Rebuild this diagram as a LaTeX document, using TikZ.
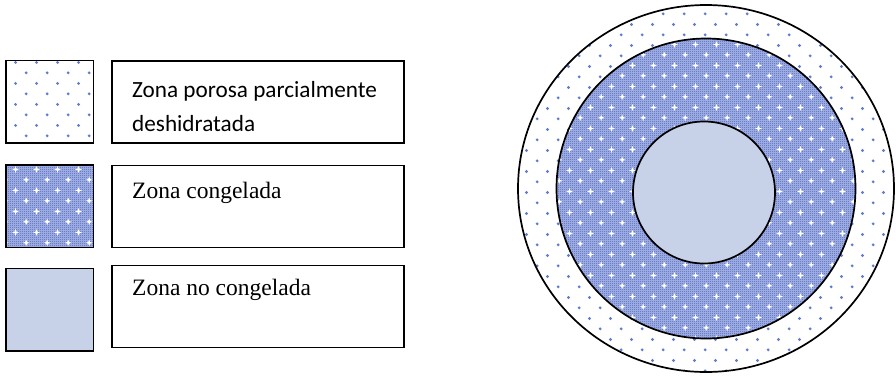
\documentclass[tikz,border=0pt]{standalone}
\usepackage{fontspec}
\setmainfont{Liberation Serif}
\newfontfamily\calib{Carlito}
\usetikzlibrary{patterns}
\definecolor{zblue}{RGB}{95,125,205}
\definecolor{zdark}{RGB}{70,95,190}
\definecolor{zbase}{RGB}{168,182,230}
\definecolor{zlight}{RGB}{199,209,232}
\pgfdeclarepatternformonly{zdots}{\pgfpoint{0pt}{0pt}}{\pgfpoint{21.33pt}{21.33pt}}{\pgfpoint{21.33pt}{21.33pt}}{%
  \pgfpathcircle{\pgfpoint{5.33pt}{5.33pt}}{1.6pt}%
  \pgfpathcircle{\pgfpoint{16pt}{16pt}}{1.6pt}%
  \pgfusepath{fill}}
\pgfdeclarepatternformonly{zchecker}{\pgfpoint{0pt}{0pt}}{\pgfpoint{2pt}{2pt}}{\pgfpoint{2pt}{2pt}}{%
  \pgfpathrectangle{\pgfpoint{0pt}{0pt}}{\pgfpoint{1pt}{1pt}}%
  \pgfpathrectangle{\pgfpoint{1pt}{1pt}}{\pgfpoint{1pt}{1pt}}%
  \pgfusepath{fill}}
\pgfdeclarepatternformonly{zstars}{\pgfpoint{0pt}{0pt}}{\pgfpoint{21.33pt}{21.33pt}}{\pgfpoint{21.33pt}{21.33pt}}{%
  \pgfpathmoveto{\pgfpoint{5.33pt}{8.8pt}}%
  \pgfpathlineto{\pgfpoint{6.2pt}{6.2pt}}%
  \pgfpathlineto{\pgfpoint{8.8pt}{5.33pt}}%
  \pgfpathlineto{\pgfpoint{6.2pt}{4.46pt}}%
  \pgfpathlineto{\pgfpoint{5.33pt}{1.86pt}}%
  \pgfpathlineto{\pgfpoint{4.46pt}{4.46pt}}%
  \pgfpathlineto{\pgfpoint{1.86pt}{5.33pt}}%
  \pgfpathlineto{\pgfpoint{4.46pt}{6.2pt}}%
  \pgfpathclose
  \pgfpathmoveto{\pgfpoint{16pt}{19.47pt}}%
  \pgfpathlineto{\pgfpoint{16.87pt}{16.87pt}}%
  \pgfpathlineto{\pgfpoint{19.47pt}{16pt}}%
  \pgfpathlineto{\pgfpoint{16.87pt}{15.13pt}}%
  \pgfpathlineto{\pgfpoint{16pt}{12.53pt}}%
  \pgfpathlineto{\pgfpoint{15.13pt}{15.13pt}}%
  \pgfpathlineto{\pgfpoint{12.53pt}{16pt}}%
  \pgfpathlineto{\pgfpoint{15.13pt}{16.87pt}}%
  \pgfpathclose
  \pgfusepath{fill}}
\tikzset{
  porous/.style={preaction={fill=white}, preaction={pattern=zdots, pattern color=zblue}},
  frozen/.style={preaction={fill=zbase}, preaction={pattern=zchecker, pattern color=zdark}, preaction={pattern=zstars, pattern color=white}},
  unfrozen/.style={fill=zlight},
  swatch/.style={draw=black, line width=1.6pt, minimum width=87.5pt, minimum height=82.5pt, anchor=north west, inner sep=0pt},
  labelbox/.style={draw=black, line width=1.5pt, minimum width=292pt, minimum height=82pt, anchor=north west, inner sep=0pt},
  serif/.style={font=\fontsize{23.5}{28}\selectfont, anchor=base west, inner sep=0pt},
  sans/.style={font=\calib\fontsize{23.2}{28}\selectfont, anchor=base west, inner sep=0pt},
  ring/.style={draw=black, line width=1.7pt}
}
\begin{document}
\begin{tikzpicture}[x=1pt,y=-1pt]
\useasboundingbox (0,0) rectangle (896,375);
% legend swatches
\node[swatch, porous] (s1) at (5,59.5) {};
\node[swatch, frozen] (s2) at (5,164) {};
\node[swatch, unfrozen] (s3) at (5,267.5) {};
% label boxes
\node[labelbox] (b1) at (111,60) {};
\node[labelbox] (b2) at (111,164.5) {};
\node[labelbox] (b3) at (111,264.5) {};
\node[sans] (l1a) at (132,97) {Zona porosa parcialmente};
\node[sans] (l1b) at (132,131.5) {deshidratada};
\node[serif] (l2) at (132,198.3) {Zona congelada};
\node[serif] (l3) at (132,295) {Zona no congelada};
% circles
\coordinate (c) at (706,188.5);
\coordinate (ci) at (704,192.5);
\path[porous] (c) ellipse [x radius=188, y radius=183.5];
\path[frozen] (c) ellipse [x radius=149.5, y radius=150];
\path[unfrozen] (ci) circle [radius=71];
\draw[ring] (c) ellipse [x radius=188, y radius=183.5];
\draw[ring] (c) ellipse [x radius=149.5, y radius=150];
\draw[ring] (ci) circle [radius=71];
\end{tikzpicture}
\end{document}
